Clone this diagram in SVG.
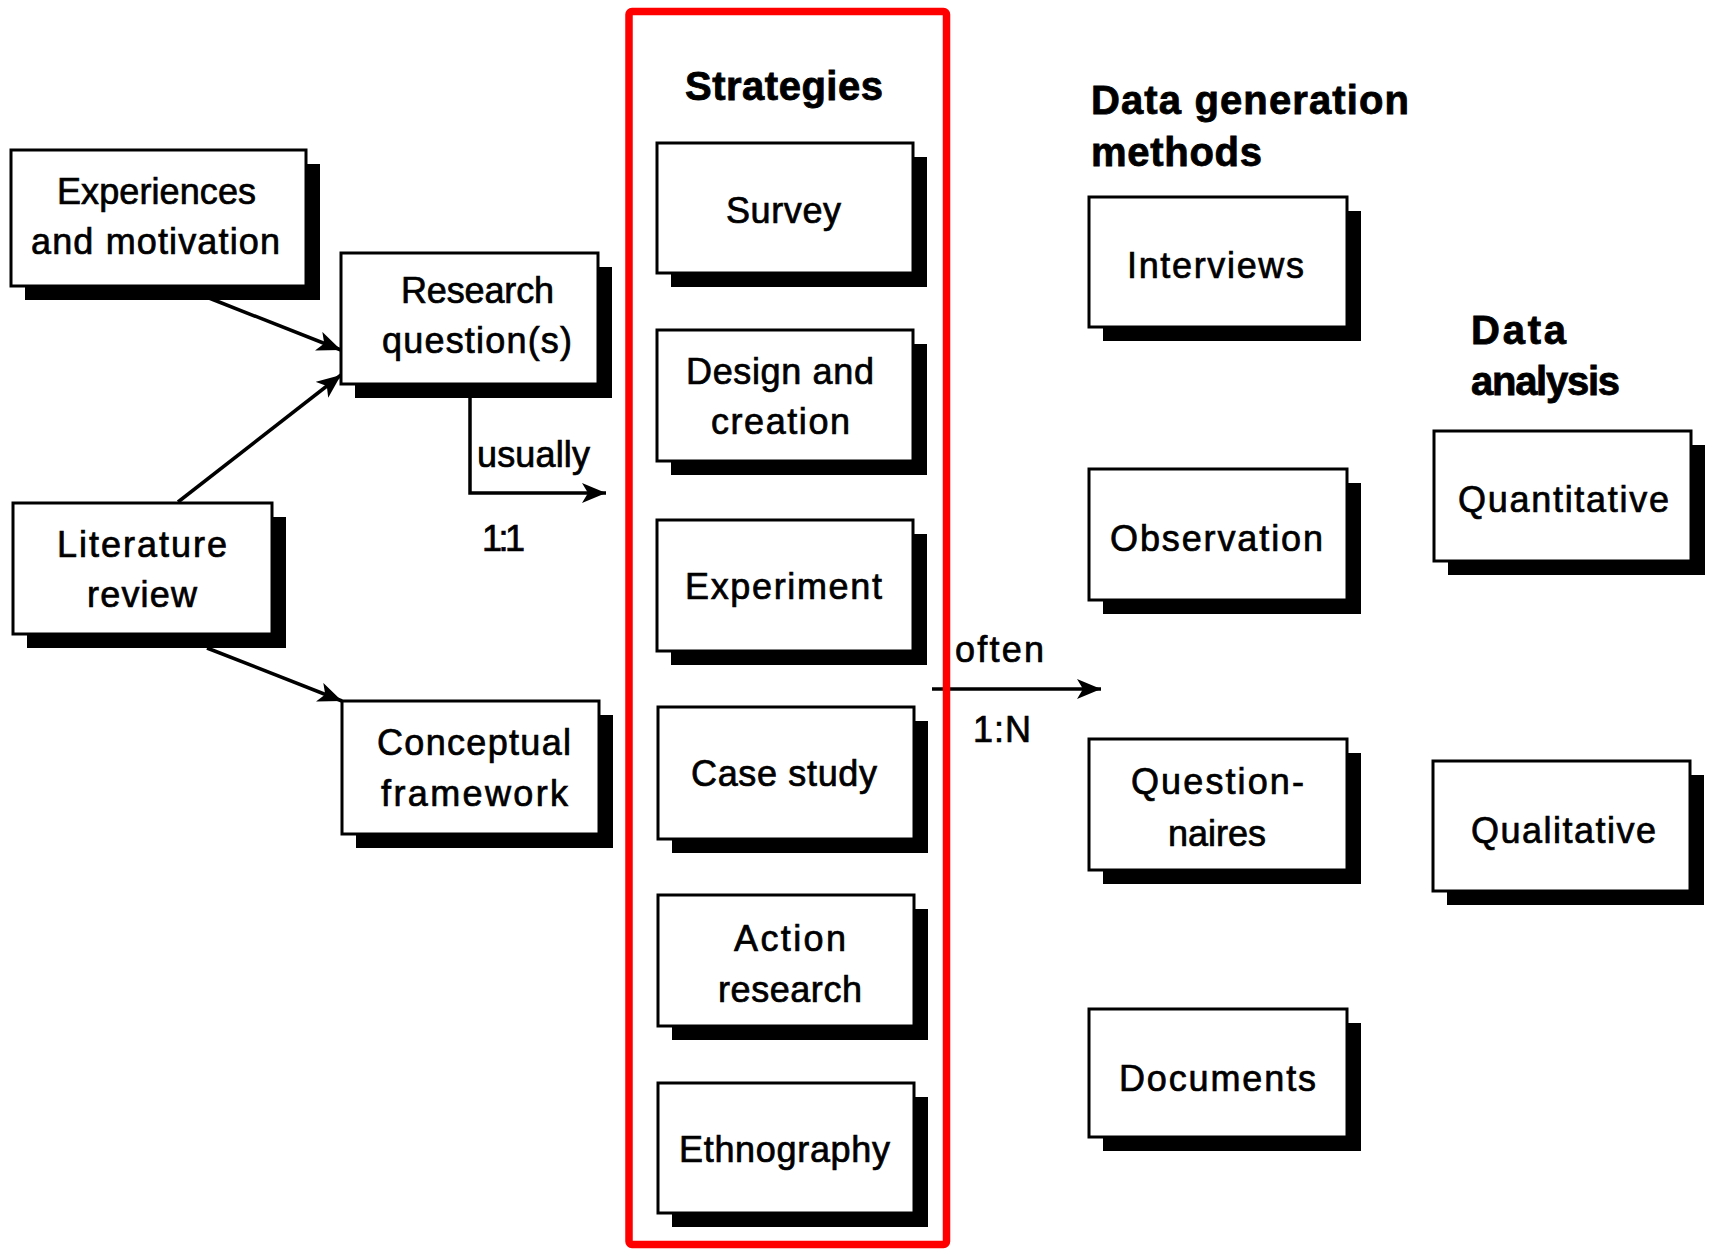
<svg xmlns="http://www.w3.org/2000/svg" width="1710" height="1249" viewBox="0 0 1710 1249">
  <style>
    .shadow { fill: #000; }
    .box { fill: #fff; stroke: #000; stroke-width: 3; }
    .lbl { font-family: "Liberation Sans", Arial, sans-serif; font-size: 36px; fill: #000; stroke: #000; stroke-width: 0.7; }
    .hdr { font-family: "Liberation Sans", Arial, sans-serif; font-size: 40px; font-weight: bold; fill: #000; stroke: #000; stroke-width: 0.8; }
    .conn { fill: none; stroke: #000; stroke-width: 3.5; }
    .frame { fill: none; stroke: #ff0000; stroke-width: 7.5; }
  </style>
  <defs>
    <marker id="arrow" markerUnits="userSpaceOnUse" markerWidth="26" markerHeight="22" refX="24" refY="10" orient="auto">
      <path d="M0,0 L24,10 L0,20 L6,10 z" fill="#000"/>
    </marker>
  </defs>
  <rect width="1710" height="1249" fill="#fff"/>

  <!-- connectors -->
  <g id="connectors">
    <line class="conn" x1="209" y1="298" x2="341" y2="350" marker-end="url(#arrow)"/>
    <line class="conn" x1="178" y1="502" x2="341" y2="375" marker-end="url(#arrow)"/>
    <line class="conn" x1="207" y1="648" x2="342" y2="701" marker-end="url(#arrow)"/>
    <path class="conn" d="M470,397 V493 H606" marker-end="url(#arrow)"/>
    <line class="conn" x1="932" y1="689" x2="1101" y2="689" marker-end="url(#arrow)"/>
    <text class="lbl" x="477" y="467" textLength="113">usually</text>
    <text class="lbl" x="482" y="551" textLength="43">1:1</text>
    <text class="lbl" x="955" y="662" textLength="89">often</text>
    <text class="lbl" x="973" y="742" textLength="58">1:N</text>
  </g>

  <!-- left column -->
  <g id="experiences">
    <rect class="shadow" x="25" y="164" width="295" height="136"/>
    <rect class="box" x="11" y="150" width="295" height="136"/>
    <text class="lbl" x="57" y="204" textLength="199">Experiences</text>
    <text class="lbl" x="31" y="254" textLength="249">and motivation</text>
  </g>
  <g id="research-questions">
    <rect class="shadow" x="355" y="267" width="257" height="131"/>
    <rect class="box" x="341" y="253" width="257" height="131"/>
    <text class="lbl" x="401" y="303" textLength="153">Research</text>
    <text class="lbl" x="382" y="353" textLength="190">question(s)</text>
  </g>
  <g id="literature-review">
    <rect class="shadow" x="27" y="517" width="259" height="131"/>
    <rect class="box" x="13" y="503" width="259" height="131"/>
    <text class="lbl" x="57" y="557" textLength="170">Literature</text>
    <text class="lbl" x="87" y="607" textLength="110">review</text>
  </g>
  <g id="conceptual-framework">
    <rect class="shadow" x="356" y="715" width="257" height="133"/>
    <rect class="box" x="342" y="701" width="257" height="133"/>
    <text class="lbl" x="377" y="755" textLength="194">Conceptual</text>
    <text class="lbl" x="381" y="806" textLength="187">framework</text>
  </g>

  <!-- strategies column -->
  <g id="strategies-heading">
    <text class="hdr" x="685" y="100" textLength="198">Strategies</text>
  </g>
  <g id="survey">
    <rect class="shadow" x="671" y="157" width="256" height="130"/>
    <rect class="box" x="657" y="143" width="256" height="130"/>
    <text class="lbl" x="726" y="223" textLength="115">Survey</text>
  </g>
  <g id="design-creation">
    <rect class="shadow" x="671" y="344" width="256" height="131"/>
    <rect class="box" x="657" y="330" width="256" height="131"/>
    <text class="lbl" x="686" y="384" textLength="188">Design and</text>
    <text class="lbl" x="711" y="434" textLength="139">creation</text>
  </g>
  <g id="experiment">
    <rect class="shadow" x="671" y="534" width="256" height="131"/>
    <rect class="box" x="657" y="520" width="256" height="131"/>
    <text class="lbl" x="685" y="599" textLength="197">Experiment</text>
  </g>
  <g id="case-study">
    <rect class="shadow" x="672" y="721" width="256" height="132"/>
    <rect class="box" x="658" y="707" width="256" height="132"/>
    <text class="lbl" x="691" y="786" textLength="186">Case study</text>
  </g>
  <g id="action-research">
    <rect class="shadow" x="672" y="909" width="256" height="131"/>
    <rect class="box" x="658" y="895" width="256" height="131"/>
    <text class="lbl" x="734" y="951" textLength="112">Action</text>
    <text class="lbl" x="718" y="1002" textLength="144">research</text>
  </g>
  <g id="ethnography">
    <rect class="shadow" x="672" y="1097" width="256" height="130"/>
    <rect class="box" x="658" y="1083" width="256" height="130"/>
    <text class="lbl" x="679" y="1162" textLength="211">Ethnography</text>
  </g>

  <!-- data generation methods column -->
  <g id="data-generation-heading">
    <text class="hdr" x="1091" y="114" textLength="318">Data generation</text>
    <text class="hdr" x="1091" y="166" textLength="171">methods</text>
  </g>
  <g id="interviews">
    <rect class="shadow" x="1103" y="211" width="258" height="130"/>
    <rect class="box" x="1089" y="197" width="258" height="130"/>
    <text class="lbl" x="1127" y="278" textLength="177">Interviews</text>
  </g>
  <g id="observation">
    <rect class="shadow" x="1103" y="483" width="258" height="131"/>
    <rect class="box" x="1089" y="469" width="258" height="131"/>
    <text class="lbl" x="1110" y="551" textLength="213">Observation</text>
  </g>
  <g id="questionnaires">
    <rect class="shadow" x="1103" y="753" width="258" height="131"/>
    <rect class="box" x="1089" y="739" width="258" height="131"/>
    <text class="lbl" x="1131" y="794" textLength="173">Question-</text>
    <text class="lbl" x="1168" y="846" textLength="98">naires</text>
  </g>
  <g id="documents">
    <rect class="shadow" x="1103" y="1023" width="258" height="128"/>
    <rect class="box" x="1089" y="1009" width="258" height="128"/>
    <text class="lbl" x="1119" y="1091" textLength="197">Documents</text>
  </g>

  <!-- data analysis column -->
  <g id="data-analysis-heading">
    <text class="hdr" x="1471" y="344" textLength="95">Data</text>
    <text class="hdr" x="1471" y="395" textLength="149">analysis</text>
  </g>
  <g id="quantitative">
    <rect class="shadow" x="1448" y="445" width="257" height="130"/>
    <rect class="box" x="1434" y="431" width="257" height="130"/>
    <text class="lbl" x="1458" y="512" textLength="211">Quantitative</text>
  </g>
  <g id="qualitative">
    <rect class="shadow" x="1447" y="775" width="257" height="130"/>
    <rect class="box" x="1433" y="761" width="257" height="130"/>
    <text class="lbl" x="1471" y="843" textLength="185">Qualitative</text>
  </g>

  <!-- highlight around the strategies column -->
  <rect id="strategies-frame" class="frame" x="629" y="11.5" width="317.5" height="1233" rx="3"/>
</svg>
